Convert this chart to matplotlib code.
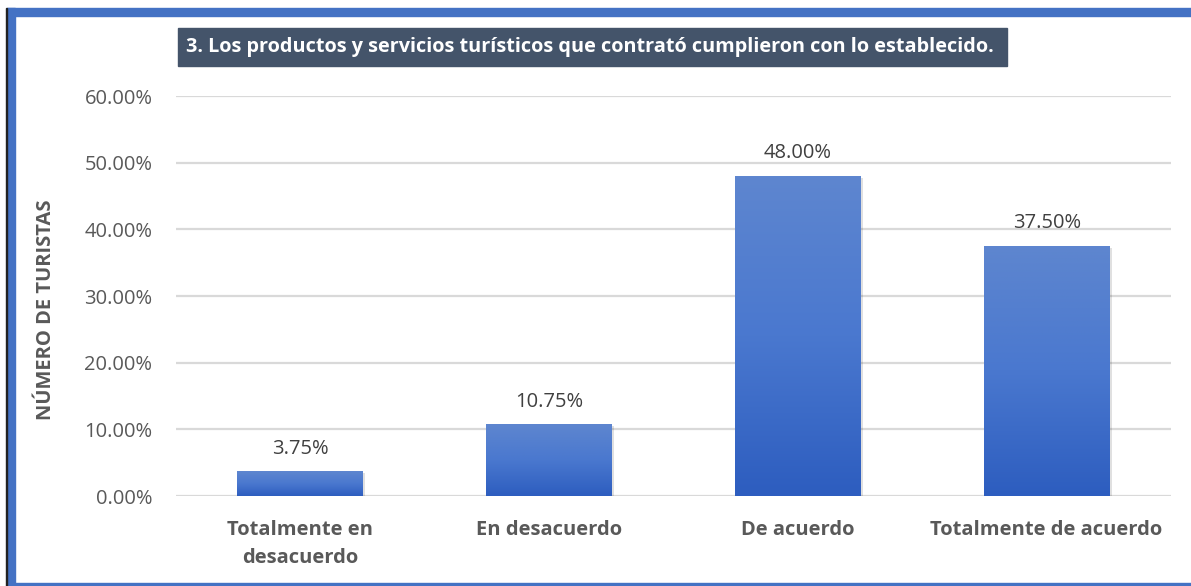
import matplotlib
matplotlib.use("Agg")
import matplotlib.pyplot as plt
import numpy as np
from matplotlib.patches import Rectangle
from matplotlib.ticker import FuncFormatter, MultipleLocator
from matplotlib.colors import LinearSegmentedColormap

categories = ["Totalmente en\ndesacuerdo", "En desacuerdo", "De acuerdo", "Totalmente de acuerdo"]
values = [3.75, 10.75, 48.00, 37.50]
labels = ["3.75%", "10.75%", "48.00%", "37.50%"]
title = "3. Los productos y servicios turísticos que contrató cumplieron con lo establecido."
ylabel = "NÚMERO DE TURISTAS"

W, H = 1191, 586
fig = plt.figure(figsize=(W/100, H/100), dpi=100)
fig.patch.set_facecolor("white")

# outer blue border (left, top, bottom)
border_col = "#4472C4"
fig.add_artist(Rectangle((7/W, 0), 8/W, 1 - 8/H, transform=fig.transFigure, color=border_col, zorder=0))
fig.add_artist(Rectangle((7/W, 1 - 16/H), 1 - 7/W, 8/H, transform=fig.transFigure, color=border_col, zorder=0))
fig.add_artist(Rectangle((7/W, 0), 1 - 7/W, 3/H, transform=fig.transFigure, color=border_col, zorder=0))
fig.add_artist(Rectangle((6/W, 0), 1.2/W, 1 - 8/H, transform=fig.transFigure, color="#222222", zorder=0))

x0, x1 = 176, 1171
y0, y1 = 496, 96
ax = fig.add_axes([x0/W, 1 - y0/H, (x1 - x0)/W, (y0 - y1)/H])
ax.set_xlim(-0.5, 3.5)
ax.set_ylim(0, 60)
ax.yaxis.set_major_locator(MultipleLocator(10))
ax.yaxis.set_major_formatter(FuncFormatter(lambda v, p: f"{v:.2f}%"))
for s in ax.spines.values():
    s.set_visible(False)
ax.grid(axis="y", color="#D9D9D9", linewidth=1.6, zorder=0)
ax.set_axisbelow(True)
ax.tick_params(axis="both", length=0)
ax.tick_params(axis="y", labelsize=14.5, labelcolor="#595959", pad=17)
ax.set_xticks(range(len(categories)))
ax.set_xticklabels(categories, fontsize=14.5, fontweight="bold", color="#595959", linespacing=1.55)
ax.tick_params(axis="x", pad=17)
for t in ax.get_yticklabels() + ax.get_xticklabels():
    t.set_family(["Open Sans", "DejaVu Sans"])

cmap = LinearSegmentedColormap.from_list("g", ["#2D5DBF", "#4A78CF", "#5E86CF"])
grad = np.linspace(0, 1, 256).reshape(-1, 1)
bw = 0.506
xs = np.arange(len(values))
bars = ax.bar(xs, values, width=bw, color="#4472C4", zorder=2)
for b in bars:
    # shadow
    ax.add_patch(Rectangle((b.get_x() + 0.008, 0), b.get_width(), b.get_height() - 0.25,
                           color="#000000", alpha=0.12, zorder=1.5, linewidth=0))
    im = ax.imshow(grad, cmap=cmap, aspect="auto", origin="lower",
                   extent=[b.get_x(), b.get_x() + b.get_width(), 0, b.get_height()], zorder=2.5)
    im.set_clip_path(b)
ax.set_xlim(-0.5, 3.5)
ax.set_ylim(0, 60)

for xi, v, lab in zip(xs, values, labels):
    ax.annotate(lab, (xi, v), xytext=(0, 9), textcoords="offset points", ha="center", va="bottom",
                fontsize=14.5, color="#404040", family=["Open Sans", "DejaVu Sans"])

fig.text(46/W, 1 - 310/H, ylabel, rotation=90, ha="center", va="center", fontsize=14.5,
         fontweight="bold", color="#595959", family=["Open Sans", "DejaVu Sans"])

# title box
fig.add_artist(Rectangle((178/W, 1 - 66/H), (1007 - 178)/W, 38/H, transform=fig.transFigure,
                         color="#44546A", zorder=3))
fig.text(186/W, 1 - 47/H, title, ha="left", va="center", fontsize=14.3, fontweight="bold",
         color="white", family=["Open Sans", "DejaVu Sans"], zorder=4)

fig.savefig("out.png", dpi=100)
